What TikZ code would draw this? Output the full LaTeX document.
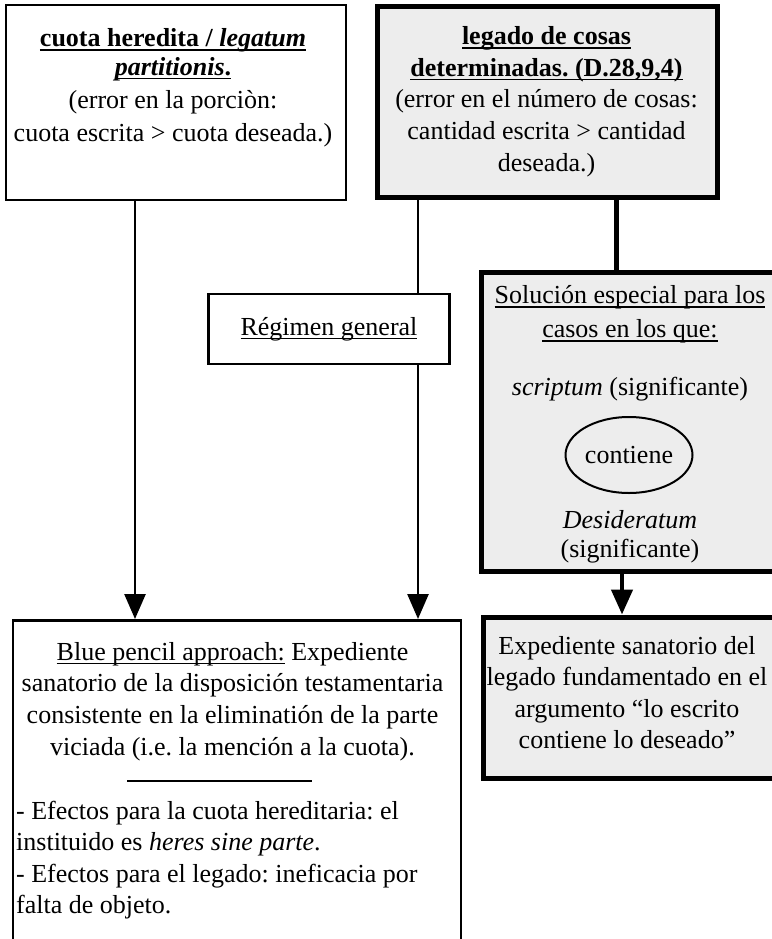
\documentclass[tikz,border=0pt]{standalone}
\usepackage{fontspec}
\setmainfont{Liberation Serif}
\usetikzlibrary{arrows.meta,shapes.geometric,backgrounds}
\definecolor{boxgray}{RGB}{237,237,237}
\newsavebox\ulbox
\newcommand\ulx[1]{\sbox\ulbox{#1}\rlap{\rule[-4.2pt]{\wd\ulbox}{1.5pt}}\usebox\ulbox}
\newcommand\topstrut{\rule{0pt}{22pt}}
\frenchspacing
\begin{document}
\begin{tikzpicture}[x=1pt,y=-1pt,
  thinbox/.style={draw, line width=2.6pt, fill=white, inner sep=0pt},
  thickbox/.style={draw, line width=5pt, fill=boxgray, inner sep=0pt},
  txt/.style={inner sep=0pt, align=center, font=\fontsize{26}{31.7}\selectfont},
  conn/.style={line width=2.6pt},
  arr/.style={conn, -{Triangle[width=21pt,length=25pt]}}]
\useasboundingbox (0,0) rectangle (771,939);

% boxes
\node[thinbox, minimum width=340pt, minimum height=195pt] (b1) at (176,102.5) {};
\node[thickbox, minimum width=340pt, minimum height=191pt] (b2) at (547,102) {};
\node[thinbox, minimum width=241pt, minimum height=70pt, font=\fontsize{26}{31.7}\selectfont] (rg) at (329,329) {\ulx{Régimen general}};
\node[thickbox, minimum width=298pt, minimum height=299pt] (sol) at (630,421.5) {};
\node[thickbox, minimum width=300pt, minimum height=161pt] (ex) at (633,697.5) {};
\node[thinbox, minimum width=448pt, minimum height=400pt, anchor=north] (bp) at (237,619) {};

% texts
\node[txt, anchor=north, font=\fontsize{26}{33}\selectfont] (t1) at (173,24.5)
  {\topstrut\ulx{\textbf{cuota heredita / \textit{legatum}}}\\[-4.5pt]
   \ulx{\textbf{\textit{partitionis}.}}\\
   (error en la porciòn:\\
   cuota escrita > cuota deseada.)};
\node[txt, anchor=north] (t2) at (546.5,22.3)
  {\topstrut\ulx{\textbf{legado de cosas}}\\
   \ulx{\textbf{determinadas. (D.28,9,4)}}\\
   (error en el número de cosas:\\
   cantidad escrita > cantidad\\
   deseada.)};
\node[txt, anchor=north, font=\fontsize{26}{34}\selectfont] (t3) at (630,281.3)
  {\topstrut\ulx{Solución especial para los}\\
   \ulx{casos en los que:}};
\node[txt, anchor=base] (t4) at (630,395) {\textit{scriptum} (significante)};
\node[draw, ellipse, line width=2pt, minimum width=127pt, minimum height=76pt, inner sep=0pt,
  font=\fontsize{26}{31.7}\selectfont] (el) at (629,455) {contiene};
\node[txt, anchor=north, font=\fontsize{26}{29.5}\selectfont] (t5) at (630,506)
  {\topstrut\textit{Desideratum}\\(significante)};
\node[txt, anchor=north, font=\fontsize{26}{31.5}\selectfont] (t6) at (627,632)
  {\topstrut Expediente sanatorio del\\
   legado fundamentado en el\\
   argumento “lo escrito\\
   contiene lo deseado”};
\node[txt, anchor=north] (t7) at (232.5,638)
  {\topstrut\ulx{Blue pencil approach:} Expediente\\
   sanatorio de la disposición testamentaria\\
   consistente en la eliminatión de la parte\\
   viciada (i.e. la mención a la cuota).};
\draw[line width=2.6pt] (127,781) -- (312,781);
\node[txt, align=left, anchor=north west, font=\fontsize{26}{31.5}\selectfont] (t8) at (16,797)
  {\topstrut- Efectos para la cuota hereditaria: el\\
   instituido es \textit{heres sine parte}.\\
   - Efectos para el legado: ineficacia por\\
   falta de objeto.};

% connectors
\coordinate (c1) at (135,0);
\coordinate (c2) at (418,0);
\coordinate (c3) at (616,0);
\coordinate (c4) at (622,0);
\begin{scope}[on background layer]
\draw[arr] (b1.south -| c1) -- (c1 |- bp.north);
\draw[arr] (b2.south -| c2) -- (c2 |- bp.north);
\draw[line width=5pt] (b2.south -| c3) -- (c3 |- sol.north);
\draw[arr, line width=4.5pt] (sol.south -| c4) -- (c4 |- ex.north);
\end{scope}
\end{tikzpicture}
\end{document}
